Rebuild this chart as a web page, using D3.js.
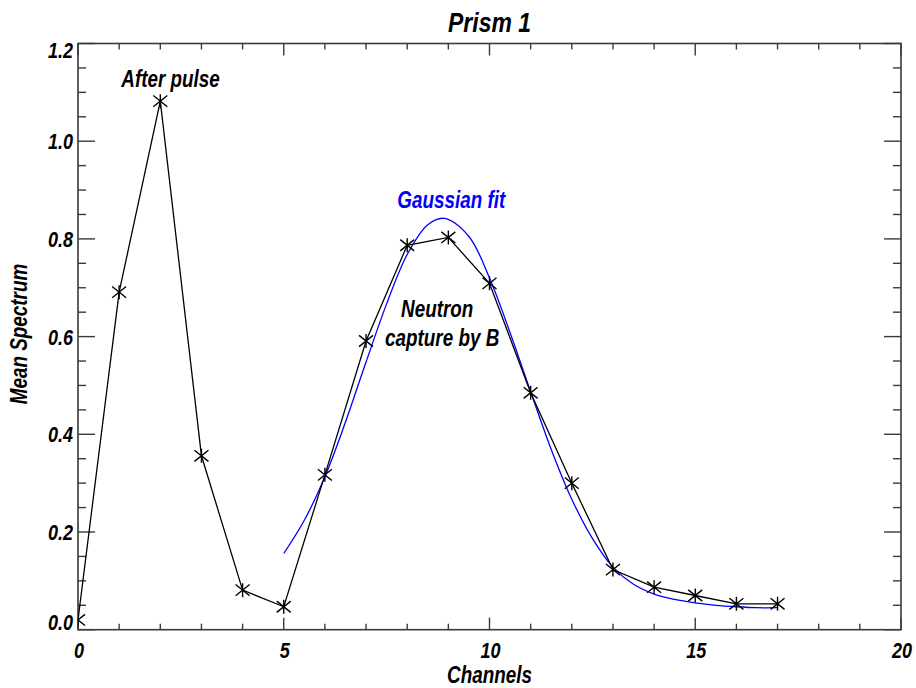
<!DOCTYPE html>
<html lang="en">
<head>
    <meta charset="UTF-8">
    <title>Prism 1</title>
    <script src="https://d3js.org/d3.v7.min.js"></script>
    <style>
        body { margin: 0; background: #fff; }
        svg text { font-family: "Liberation Sans", Arial, sans-serif; font-weight: bold; font-style: italic; }
    </style>
</head>
<body>
    <div id="chart"></div>
    <script>
        // measured spectrum, channel 0..17
        const channels = [0, 1, 2, 3, 4, 5, 6, 7, 8, 9, 10, 11, 12, 13, 14, 15, 16, 17]
        const spectrum = [0.020, 0.691, 1.082, 0.356, 0.081, 0.047, 0.317, 0.591, 0.787, 0.803,
                          0.709, 0.485, 0.300, 0.123, 0.087, 0.070, 0.053, 0.053]
        // gaussian fit curve
        const fitX = [5.0, 5.5, 6.0, 6.5, 7.0, 7.5, 8.0, 8.5, 8.9, 9.5, 10.0, 10.5, 11.0,
                      11.5, 12.0, 12.5, 13.0, 13.5, 14.0, 14.5, 15.0, 15.5, 16.0, 16.5, 17.0]
        const fitY = [0.156, 0.224, 0.313, 0.425, 0.548, 0.667, 0.768, 0.829, 0.842, 0.805,
                      0.720, 0.608, 0.487, 0.369, 0.267, 0.187, 0.128, 0.093, 0.073, 0.062,
                      0.055, 0.050, 0.047, 0.045, 0.045]
        const xTicks = [0, 5, 10, 15, 20]
        const yTicks = [0.0, 0.2, 0.4, 0.6, 0.8, 1.0, 1.2]
        const annotations = [
            {text: "After pulse", x: 2.25, y: 1.111, color: "#000"},
            {text: "Gaussian fit", x: 9.07, y: 0.863, color: "#0000ff"},
            {text: "Neutron", x: 8.73, y: 0.641, color: "#000"},
            {text: "capture by B", x: 8.85, y: 0.580, color: "#000"}
        ]

        const width = 916
        const height = 688
        const margin = {top: 43.5, right: 15, bottom: 58.3, left: 78}
        const W = width - margin.left - margin.right
        const H = height - margin.top - margin.bottom
        const squeeze = 0.82   // the IDL font is narrower than Liberation Sans

        const svg = d3.select("#chart").append("svg")
            .attr("width", width)
            .attr("height", height)

        const x = d3.scaleLinear().domain([0, 20]).range([margin.left, margin.left + W])
        const y = d3.scaleLinear().domain([0, 1.2]).range([margin.top + H, margin.top])

        svg.append("clipPath").attr("id", "clip")
            .append("rect")
            .attr("x", margin.left).attr("y", margin.top)
            .attr("width", W).attr("height", H)

        const axisColor = "#3a3a3a"

        // narrow text helper
        function label(sel, tx, ty, rot) {
            return sel.attr("transform", (d, i) => {
                const px = typeof tx === "function" ? tx(d, i) : tx
                const py = typeof ty === "function" ? ty(d, i) : ty
                return `translate(${px},${py})` + (rot ? ` rotate(${rot})` : "") + ` scale(${squeeze},1)`
            })
        }

        // ticks, IDL style: inward on all four sides
        const minorX = d3.range(0, 21, 1)
        const minorY = d3.range(0, 1.2001, 0.05)
        const tg = svg.append("g").attr("stroke", axisColor).attr("stroke-width", 1.4)
        minorX.forEach(v => {
            const len = v % 5 === 0 ? 12 : 6
            tg.append("line").attr("x1", x(v)).attr("x2", x(v))
                .attr("y1", y(0)).attr("y2", y(0) - len)
            tg.append("line").attr("x1", x(v)).attr("x2", x(v))
                .attr("y1", y(1.2)).attr("y2", y(1.2) + len)
        })
        minorY.forEach(v => {
            const major = Math.abs(Math.round(v * 5) - v * 5) < 1e-6
            const len = major ? 17 : 8
            tg.append("line").attr("y1", y(v)).attr("y2", y(v))
                .attr("x1", x(0)).attr("x2", x(0) + len)
            tg.append("line").attr("y1", y(v)).attr("y2", y(v))
                .attr("x1", x(20)).attr("x2", x(20) - len)
        })

        svg.append("rect")
            .attr("x", margin.left).attr("y", margin.top)
            .attr("width", W).attr("height", H)
            .attr("fill", "none")
            .attr("stroke", axisColor)
            .attr("stroke-width", 1.6)

        // tick labels
        label(svg.append("g").selectAll("text").data(xTicks).enter().append("text"),
                d => x(d) + 1, y(0) + 28.5)
            .attr("text-anchor", "middle")
            .attr("font-size", 22)
            .text(d => d)

        label(svg.append("g").selectAll("text").data(yTicks).enter().append("text"),
                margin.left - 5, d => Math.min(Math.max(y(d) + 8, margin.top + 14), margin.top + H))
            .attr("text-anchor", "end")
            .attr("font-size", 22)
            .text(d => d.toFixed(1))

        // titles
        label(svg.append("text"), margin.left + W / 2, 32.3)
            .attr("text-anchor", "middle")
            .attr("font-size", 28)
            .text("Prism 1")

        label(svg.append("text"), margin.left + W / 2, 683)
            .attr("text-anchor", "middle")
            .attr("font-size", 23)
            .text("Channels")

        label(svg.append("text"), 27, 334, -90)
            .attr("text-anchor", "middle")
            .attr("font-size", 23)
            .text("Mean Spectrum")

        const plot = svg.append("g").attr("clip-path", "url(#clip)")

        // gaussian fit
        const fitLine = d3.line()
            .x((d, i) => x(fitX[i]))
            .y(d => y(d))
            .curve(d3.curveCatmullRom)
        plot.append("path")
            .attr("d", fitLine(fitY))
            .attr("fill", "none")
            .attr("stroke", "#0000ff")
            .attr("stroke-width", 1.3)

        // data line
        const dataLine = d3.line()
            .x((d, i) => x(channels[i]))
            .y(d => y(d))
        plot.append("path")
            .attr("d", dataLine(spectrum))
            .attr("fill", "none")
            .attr("stroke", "#000")
            .attr("stroke-width", 1.3)

        // asterisk markers: vertical bar plus an X
        const s = 7
        const star = `M0,${-s}L0,${s}M${-s},${-s * 0.8}L${s},${s * 0.8}M${-s},${s * 0.8}L${s},${-s * 0.8}`
        plot.append("g").selectAll("path").data(spectrum).enter().append("path")
            .attr("transform", (d, i) => `translate(${x(channels[i])},${y(d)})`)
            .attr("d", star)
            .attr("fill", "none")
            .attr("stroke", "#000")
            .attr("stroke-width", 1.4)

        // annotations
        label(svg.append("g").selectAll("text").data(annotations).enter().append("text"),
                d => x(d.x), d => y(d.y))
            .attr("text-anchor", "middle")
            .attr("font-size", 23)
            .attr("fill", d => d.color)
            .text(d => d.text)
    </script>
</body>
</html>
